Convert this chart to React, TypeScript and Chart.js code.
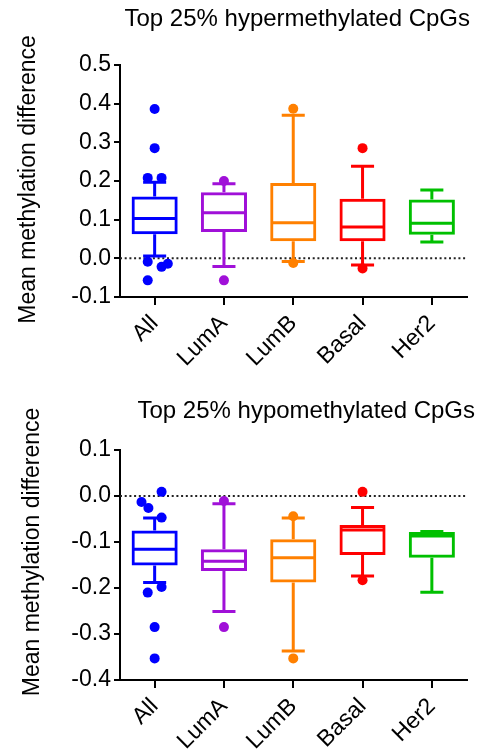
import { useEffect, useRef } from 'react';
import { Chart, registerables } from 'chart.js';

Chart.register(...registerables);

const FONT = '"Liberation Sans", Arial, Helvetica, sans-serif';

// ---------- data ----------
const categories = ['All', 'LumA', 'LumB', 'Basal', 'Her2'];
const boxColors = ['#0000ff', '#a010d8', '#ff8000', '#ff0000', '#00c000'];
const yLabel = 'Mean methylation difference';

// Top panel: hypermethylated
const hyperTitle = 'Top 25% hypermethylated CpGs';
const hyperRange = [-0.1, 0.5];
const hyperMin = [0.006, -0.021, -0.008, -0.017, 0.042];
const hyperQ1 = [0.062, 0.068, 0.044, 0.044, 0.061];
const hyperMedian = [0.103, 0.118, 0.092, 0.081, 0.091];
const hyperQ3 = [0.16, 0.171, 0.195, 0.154, 0.152];
const hyperMax = [0.197, 0.193, 0.37, 0.238, 0.177];
const hyperOutliers = [
  [0.386, 0.285, 0.208, 0.208, -0.009, -0.014, -0.022, -0.057],
  [0.2, -0.057],
  [0.387, -0.012],
  [0.285, -0.026],
  [],
];
const hyperJitter = [
  [0, 0, -0.1, 0.1, -0.1, 0.19, 0.1, -0.1],
  [0, 0],
  [0, 0],
  [0, 0],
  [],
];

// Bottom panel: hypomethylated
const hypoTitle = 'Top 25% hypomethylated CpGs';
const hypoRange = [-0.4, 0.1];
const hypoMin = [-0.188, -0.251, -0.337, -0.174, -0.209];
const hypoQ1 = [-0.151, -0.163, -0.188, -0.128, -0.134];
const hypoMedian = [-0.116, -0.142, -0.134, -0.074, -0.087];
const hypoQ3 = [-0.075, -0.116, -0.094, -0.063, -0.078];
const hypoMax = [-0.048, -0.017, -0.048, -0.025, -0.077];
const hypoOutliers = [
  [0.009, -0.013, -0.026, -0.047, -0.198, -0.21, -0.285, -0.353],
  [-0.011, -0.285],
  [-0.044, -0.353],
  [0.009, -0.183],
  [],
];
const hypoJitter = [
  [0.1, -0.19, -0.09, 0.1, 0.1, -0.1, 0, 0],
  [0, 0],
  [0, 0],
  [0, 0],
  [],
];

// ---------- plugins ----------
const boxWhiskers = {
  id: 'boxWhiskers',
  beforeDatasetsDraw(chart: any, _a: any, o: any) {
    const { ctx, chartArea: ca, scales } = chart;
    const y = scales.y;
    ctx.save();
    // dotted zero line
    const y0 = y.getPixelForValue(0);
    ctx.strokeStyle = '#222';
    ctx.lineWidth = 2;
    ctx.setLineDash([2, 2.7]);
    ctx.beginPath();
    ctx.moveTo(ca.left, y0);
    ctx.lineTo(ca.right, y0);
    ctx.stroke();
    ctx.setLineDash([]);
    const meta = chart.getDatasetMeta(0);
    meta.data.forEach((bar: any, i: number) => {
      const { x, width } = bar.getProps(['x', 'width'], true);
      const half = width / 2;
      const cap = width / 4;
      const pMin = y.getPixelForValue(o.min[i]);
      const pQ1 = y.getPixelForValue(o.q1[i]);
      const pMed = y.getPixelForValue(o.med[i]);
      const pQ3 = y.getPixelForValue(o.q3[i]);
      const pMax = y.getPixelForValue(o.max[i]);
      ctx.strokeStyle = o.colors[i];
      ctx.lineWidth = 3;
      ctx.lineCap = 'butt';
      ctx.beginPath();
      ctx.moveTo(x - half + 1, pMed);
      ctx.lineTo(x + half - 1, pMed);
      ctx.moveTo(x, pQ3);
      ctx.lineTo(x, pMax);
      ctx.moveTo(x, pQ1);
      ctx.lineTo(x, pMin);
      ctx.moveTo(x - cap, pMax);
      ctx.lineTo(x + cap, pMax);
      ctx.moveTo(x - cap, pMin);
      ctx.lineTo(x + cap, pMin);
      ctx.stroke();
    });
    ctx.restore();
  },
};

const panelText = {
  id: 'panelText',
  afterDraw(chart: any, _a: any, o: any) {
    const { ctx, chartArea: ca } = chart;
    ctx.save();
    ctx.fillStyle = '#000';
    ctx.textAlign = 'center';
    ctx.textBaseline = 'middle';
    ctx.font = `${o.titleSize}px ${FONT}`;
    ctx.fillText(o.title, (ca.left + ca.right) / 2 + o.titleDx, o.titleY);
    ctx.translate(o.yLabelX, (ca.top + ca.bottom) / 2 + o.yLabelDy);
    ctx.rotate(-Math.PI / 2);
    ctx.font = `${o.yLabelSize}px ${FONT}`;
    ctx.fillText(o.yLabel, 0, 0);
    ctx.restore();
  },
};

interface PanelSpec {
  title: string;
  range: number[];
  min: number[];
  q1: number[];
  med: number[];
  q3: number[];
  max: number[];
  outliers: number[][];
  jitter: number[][];
  height: number;
  top: number;
  bottom: number;
  titleY: number;
  titleDx: number;
  yLabelX: number;
  yLabelDy: number;
}

function makeConfig(p: PanelSpec): any {
  const axisGrid = (len: number) => ({
    display: true,
    drawOnChartArea: false,
    drawTicks: true,
    tickLength: len,
    color: '#000',
    lineWidth: 2,
    offset: false,
  });
  const border = { display: true, color: '#000', width: 2 };
  const datasets: any[] = [
    {
      type: 'bar',
      data: categories.map((_, i) => [p.q1[i], p.q3[i]]),
      backgroundColor: 'rgba(0,0,0,0)',
      borderColor: boxColors,
      borderWidth: 3,
      borderSkipped: false,
      barPercentage: 0.665,
      categoryPercentage: 1,
      grouped: false,
      order: 10,
    },
  ];
  categories.forEach((_, i) => {
    datasets.push({
      type: 'scatter',
      xAxisID: 'xj',
      yAxisID: 'y',
      data: p.outliers[i].map((v, k) => ({ x: i + p.jitter[i][k], y: v })),
      backgroundColor: boxColors[i],
      borderWidth: 0,
      pointRadius: 5,
      pointHoverRadius: 5,
      order: 0,
      clip: false,
    });
  });
  return {
    type: 'bar',
    data: { labels: categories, datasets },
    plugins: [boxWhiskers, panelText],
    options: {
      animation: false,
      responsive: false,
      maintainAspectRatio: false,
      events: [],
      layout: { padding: { top: p.top, right: 21.5, left: 0, bottom: 0 } },
      plugins: {
        legend: { display: false },
        tooltip: { enabled: false },
        title: { display: false },
        boxWhiskers: { min: p.min, q1: p.q1, med: p.med, q3: p.q3, max: p.max, colors: boxColors },
        panelText: {
          title: p.title,
          titleSize: 24,
          titleY: p.titleY,
          titleDx: p.titleDx,
          yLabel,
          yLabelSize: 23,
          yLabelX: p.yLabelX,
          yLabelDy: p.yLabelDy,
        },
      },
      scales: {
        x: {
          type: 'category',
          offset: true,
          grid: axisGrid(8),
          border,
          ticks: {
            font: { size: 23, family: FONT },
            color: '#000',
            minRotation: 45,
            maxRotation: 45,
            autoSkip: false,
            padding: 5,
          },
          afterFit: (s: any) => {
            s.height = p.height - p.bottom;
          },
        },
        xj: {
          type: 'linear',
          display: false,
          offset: false,
          min: -0.5,
          max: 4.5,
          grid: { offset: false },
        },
        y: {
          type: 'linear',
          min: p.range[0],
          max: p.range[1],
          grid: axisGrid(6),
          border,
          ticks: {
            stepSize: 0.1,
            font: { size: 23, family: FONT },
            color: '#000',
            padding: 3,
            callback: (v: any) => (Math.abs(Number(v)) < 1e-9 ? '0.0' : Number(v).toFixed(1)),
          },
          afterFit: (s: any) => {
            s.width = 120;
          },
        },
      },
    },
  };
}

const topSpec: PanelSpec = {
  title: hyperTitle,
  range: hyperRange,
  min: hyperMin,
  q1: hyperQ1,
  med: hyperMedian,
  q3: hyperQ3,
  max: hyperMax,
  outliers: hyperOutliers,
  jitter: hyperJitter,
  height: 375,
  top: 65,
  bottom: 297,
  titleY: 19,
  titleDx: 4,
  yLabelX: 28.5,
  yLabelDy: -1.5,
};

const bottomSpec: PanelSpec = {
  title: hypoTitle,
  range: hypoRange,
  min: hypoMin,
  q1: hypoQ1,
  med: hypoMedian,
  q3: hypoQ3,
  max: hypoMax,
  outliers: hypoOutliers,
  jitter: hypoJitter,
  height: 374,
  top: 75,
  bottom: 305,
  titleY: 36,
  titleDx: 13,
  yLabelX: 33,
  yLabelDy: -13,
};

function Panel({ spec }: { spec: PanelSpec }) {
  const ref = useRef<HTMLCanvasElement | null>(null);
  useEffect(() => {
    if (!ref.current) return;
    const chart = new Chart(ref.current, makeConfig(spec));
    return () => chart.destroy();
  }, [spec]);
  return <canvas ref={ref} width={488} height={spec.height} style={{ display: 'block', width: 488, height: spec.height }} />;
}

export default function App() {
  return (
    <div style={{ position: 'absolute', left: 0, top: 0, width: 488, height: 749, background: '#fff' }}>
      <Panel spec={topSpec} />
      <Panel spec={bottomSpec} />
    </div>
  );
}
